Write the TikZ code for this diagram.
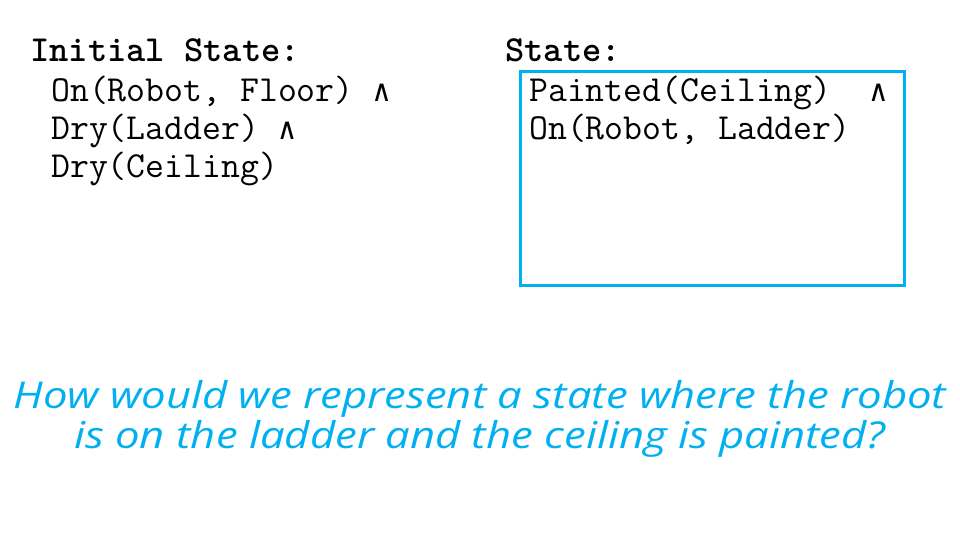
\documentclass[tikz,border=0pt]{standalone}
\usepackage{fontspec}
\newfontfamily\handfont{Open Sans}
\newfontfamily\symfont{DejaVu Sans Mono}
\definecolor{skyblue}{HTML}{00B0F0}
\newcommand{\wedgesym}{{\symfont\fontsize{30}{36}\selectfont\char"2227}}
\tikzset{
  mono/.style={font=\ttfamily\fontsize{36.7}{44}\selectfont, anchor=base west, inner sep=0pt, text=black},
  monob/.style={mono, font=\ttfamily\bfseries\fontsize{36.7}{44}\selectfont},
  hand/.style={font=\handfont\itshape\fontsize{37}{44}\selectfont, anchor=base, inner sep=0pt, text=skyblue},
  statebox/.style={draw=skyblue, line width=3pt}
}
\begin{document}
\begin{tikzpicture}[x=1pt,y=-1pt]
\useasboundingbox (0,0) rectangle (960,540);
\node[monob] (init) at (30,62) {Initial State:};
\node[mono] (i1) at (51,102) {On(Robot,~Floor)~\wedgesym};
\node[mono] (i2) at (51,140) {Dry(Ladder)~\wedgesym};
\node[mono] (i3) at (51,178) {Dry(Ceiling)};
\node[monob] (st) at (505,62) {State:};
\draw[statebox] (520,72) rectangle (904,285);
\node[mono] (s1) at (529,102) {Painted(Ceiling)~~\wedgesym};
\node[mono] (s2) at (529,140) {On(Robot,~Ladder)};
\node[hand] (q1) at (480,408) {\scalebox{1.18}[1]{How would we represent a state where the robot}};
\node[hand] (q2) at (480,448) {\scalebox{1.18}[1]{is on the ladder and the ceiling is painted?}};
\end{tikzpicture}
\end{document}
